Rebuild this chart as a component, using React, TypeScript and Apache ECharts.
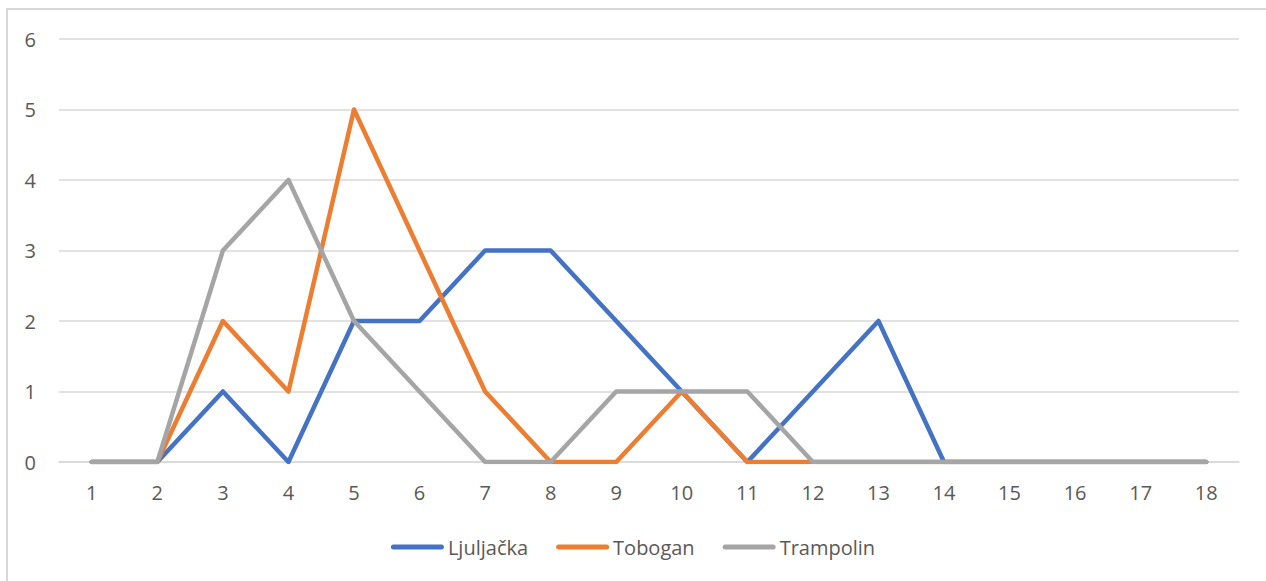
import React, { useEffect, useRef } from "react";
import * as echarts from "echarts";

const categories = ["1", "2", "3", "4", "5", "6", "7", "8", "9", "10", "11", "12", "13", "14", "15", "16", "17", "18"];
const ljuljacka = [0, 0, 1, 0, 2, 2, 3, 3, 2, 1, 0, 1, 2, 0, 0, 0, 0, 0];
const tobogan = [0, 0, 2, 1, 5, 3, 1, 0, 0, 1, 0, 0, 0, 0, 0, 0, 0, 0];
const trampolin = [0, 0, 3, 4, 2, 1, 0, 0, 1, 1, 1, 0, 0, 0, 0, 0, 0, 0];
const seriesNames = ["Ljuljačka", "Tobogan", "Trampolin"];
const colors = ["#4472C4", "#ED7D31", "#A5A5A5"];

const FONT = "'Open Sans', 'Liberation Sans', Arial, sans-serif";
const TEXT = "#595959";

export default function App() {
  const ref = useRef<HTMLDivElement>(null);
  useEffect(() => {
    if (!ref.current) return;
    const chart = echarts.init(ref.current, null, { renderer: "svg" });
    const data = [ljuljacka, tobogan, trampolin];
    chart.setOption({
      animation: false,
      textStyle: { fontFamily: FONT },
      grid: { left: 59, top: 39, width: 1180, height: 423, containLabel: false },
      legend: {
        data: seriesNames,
        left: "center",
        top: 532,
        itemWidth: 53,
        itemHeight: 5,
        itemGap: 28,
        icon: "path://M2.5,0 L50.5,0 A2.5,2.5 0 0 1 50.5,5 L2.5,5 A2.5,2.5 0 0 1 2.5,0 Z",
        textStyle: { color: TEXT, fontSize: 20, fontFamily: FONT, padding: [0, 0, 0, -1] },
      },
      xAxis: {
        type: "category",
        data: categories,
        boundaryGap: true,
        axisLine: { show: true, lineStyle: { color: "#D9D9D9", width: 1.5 } },
        axisTick: { show: false },
        axisLabel: { color: TEXT, fontSize: 20, fontFamily: FONT, margin: 20 },
      },
      yAxis: {
        type: "value",
        min: 0,
        max: 6,
        interval: 1,
        axisLine: { show: false },
        axisTick: { show: false },
        axisLabel: { color: TEXT, fontSize: 20, fontFamily: FONT, margin: 23 },
        splitLine: { lineStyle: { color: "#D9D9D9", width: 1.5 } },
      },
      series: seriesNames.map((name, i) => ({
        name,
        type: "line",
        data: data[i],
        symbol: "none",
        color: colors[i],
        lineStyle: { color: colors[i], width: 4.5, cap: "round", join: "round" },
      })),
    });
    return () => chart.dispose();
  }, []);
  return (
    <div style={{ position: "absolute", left: 0, top: 0, width: 1266, height: 581, overflow: "hidden", background: "#fff" }}>
      <div
        style={{
          position: "absolute",
          left: 6,
          top: 8,
          width: 1280,
          height: 600,
          borderLeft: "2px solid #D9D9D9",
          borderTop: "2px solid #D9D9D9",
        }}
      />
      <div ref={ref} style={{ position: "absolute", left: 0, top: 0, width: 1266, height: 581 }} />
    </div>
  );
}
